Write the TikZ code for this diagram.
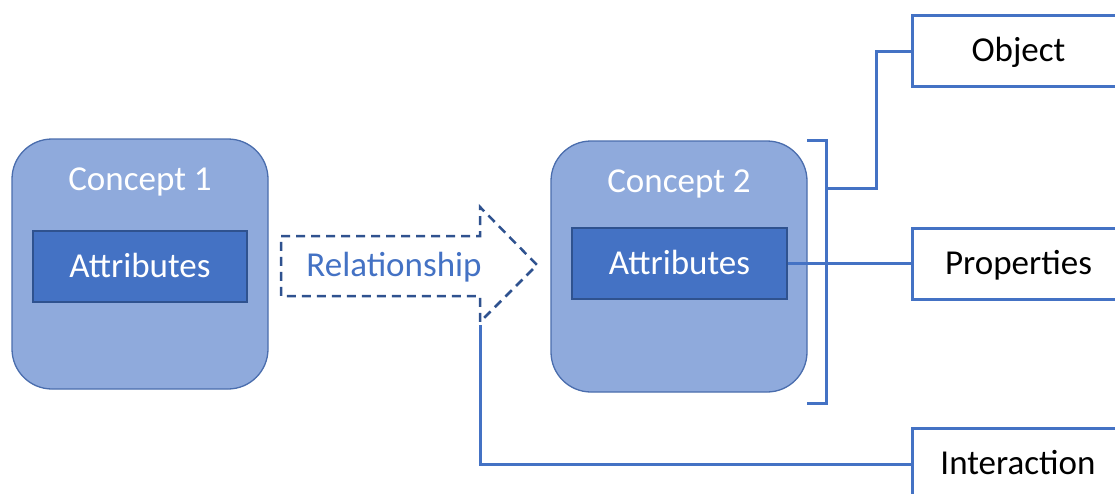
\documentclass[tikz,border=0pt]{standalone}
\usepackage{fontspec}
\setmainfont{Carlito}
\definecolor{cfill}{HTML}{8FAADC}
\definecolor{cdraw}{HTML}{4A6DAD}
\definecolor{afill}{HTML}{4472C4}
\definecolor{adraw}{HTML}{2F528F}
\definecolor{lblue}{HTML}{4472C4}
\definecolor{dblue}{HTML}{2F528F}
\begin{document}
\begin{tikzpicture}[x=1pt,y=-1pt,
  every node/.style={font=\fontsize{35}{40}\selectfont, inner sep=0pt},
  txt/.style={text height=26pt, text depth=4.5pt},
  concept/.style={draw=cdraw, fill=cfill, line width=1.3pt, rounded corners=40pt, minimum width=256pt, minimum height=250pt},
  attr/.style={txt, draw=adraw, fill=afill, line width=1.2pt, minimum width=214pt, minimum height=71pt, text=white},
  clabel/.style={txt, text=white},
  outbox/.style={txt, draw=lblue, fill=white, line width=3pt, minimum width=213pt, minimum height=71pt, text=black},
  conn/.style={draw=lblue, line width=3pt},
  relarrow/.style={draw=dblue, line width=2.5pt, dash pattern=on 9pt off 6pt}
]
\useasboundingbox (0,0) rectangle (1115,493);
\clip (0,0) rectangle (1115,493);

% concepts
\node[concept] (c1) at (140,264) {};
\node[clabel] (c1l) at (140,180) {Concept 1};
\node[attr] (a1) at (140,266.5) {Attributes};

\node[concept, minimum height=251pt] (c2) at (679,266.5) {};
\node[clabel] (c2l) at (679,182) {Concept 2};
\node[attr, minimum width=215pt] (a2) at (679.5,263.5) {Attributes};

% relationship arrow
\coordinate (r1) at (281,236);
\coordinate (r2) at (480,236);
\coordinate (r3) at (480,207);
\coordinate (r4) at (537,265);
\coordinate (r5) at (480,322);
\coordinate (r6) at (480,296);
\coordinate (r7) at (281,296);
\draw[relarrow] (r1) -- (r2) -- (r3) -- (r4) -- (r5) -- (r6) -- (r7) -- cycle;
\node[txt, text=lblue] (rel) at (394,266) {Relationship};
\coordinate (relbot) at (480,325);

% right boxes
\node[outbox] (obj) at (1018.5,51) {Object};
\node[outbox] (prop) at (1018.5,263.5) {Properties};
\node[outbox, minimum height=72pt] (inter) at (1018.5,464) {};
\node[txt] (interl) at (1018,464) {Interaction};

% bracket
\coordinate (bt0) at (807,140);
\coordinate (bt1) at (826,140);
\coordinate (bb1) at (826,403);
\coordinate (bb0) at (807,403);
\draw[conn] (bt0) -- (bt1) -- (bb1) -- (bb0);
\coordinate (bm) at (826,188);
\coordinate (bj) at (876,188);

% connectors
\draw[conn] (bm) -- (bj) |- (obj.west);
\draw[conn] (a2.east) -- (prop.west);
\draw[conn] (relbot) |- (inter.west);
\end{tikzpicture}
\end{document}
